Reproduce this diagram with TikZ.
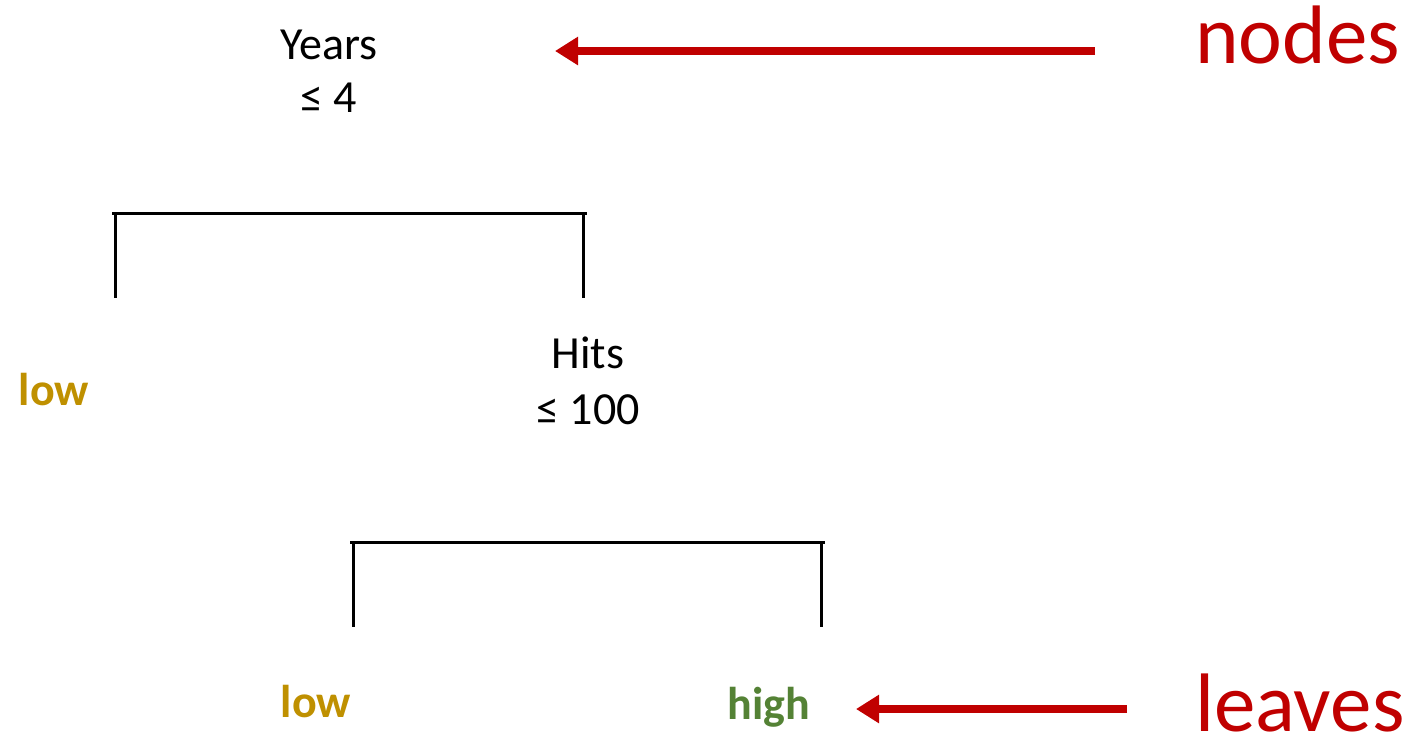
\documentclass[tikz,border=0pt]{standalone}
\usepackage{fontspec}
\setmainfont{Carlito}
\usetikzlibrary{arrows.meta}
\definecolor{tipred}{HTML}{C00000}
\definecolor{leafgold}{HTML}{BF9000}
\definecolor{leafgreen}{HTML}{548235}
\begin{document}
\begin{tikzpicture}[x=1pt,y=-1pt,
  split/.style={align=center,inner sep=0pt,anchor=base,
    font=\fontsize{46}{53}\selectfont},
  leaf/.style={inner sep=0pt,anchor=base,
    font=\fontsize{46}{53}\selectfont\bfseries},
  callout/.style={inner sep=0pt,anchor=base west,text=tipred,
    font=\fontsize{83}{90}\selectfont},
  branch/.style={line width=3pt,black},
  pointer/.style={line width=8pt,tipred,
    -{Triangle[length=23pt,width=27pt]}}]
\useasboundingbox (0,0) rectangle (1416,737);

% split nodes (anchored at the baseline of their last line)
\node[split] (years) at (329,112) {Years\\≤ 4};
\node[split,font=\fontsize{46}{56}\selectfont] (hits) at (588,424) {Hits\\≤ 100};

% leaves
\node[leaf,text=leafgold] (lowA) at (54,405) {low};
\node[leaf,text=leafgold] (lowB) at (316,717) {low};
\node[leaf,text=leafgreen] (high) at (769,719) {high};

% labels on the right
\node[callout] (nodeslbl) at (1195,63) {nodes};
\node[callout] (leaveslbl) at (1195,731) {leaves};

% first split: Years <= 4
\coordinate (s1l) at (115,213);
\coordinate (s1r) at (583,213);
\coordinate (e1l) at (115,298);
\coordinate (e1r) at (583,298);
\draw[branch] ([xshift=-3pt]s1l) -- ([xshift=4pt]s1r);
\draw[branch] (s1l) -- (e1l);
\draw[branch] (s1r) -- (e1r);

% second split: Hits <= 100
\coordinate (s2l) at (353,542);
\coordinate (s2r) at (821,542);
\coordinate (e2l) at (353,627);
\coordinate (e2r) at (821,627);
\draw[branch] ([xshift=-3pt]s2l) -- ([xshift=4pt]s2r);
\draw[branch] (s2l) -- (e2l);
\draw[branch] (s2r) -- (e2r);

% pointers from the labels
\coordinate (p1s) at (1095,51);
\coordinate (p1e) at (555,51);
\coordinate (p2s) at (1127,709);
\coordinate (p2e) at (856,709);
\draw[pointer] (p1s) -- (p1e);
\draw[pointer] (p2s) -- (p2e);
\end{tikzpicture}
\end{document}
